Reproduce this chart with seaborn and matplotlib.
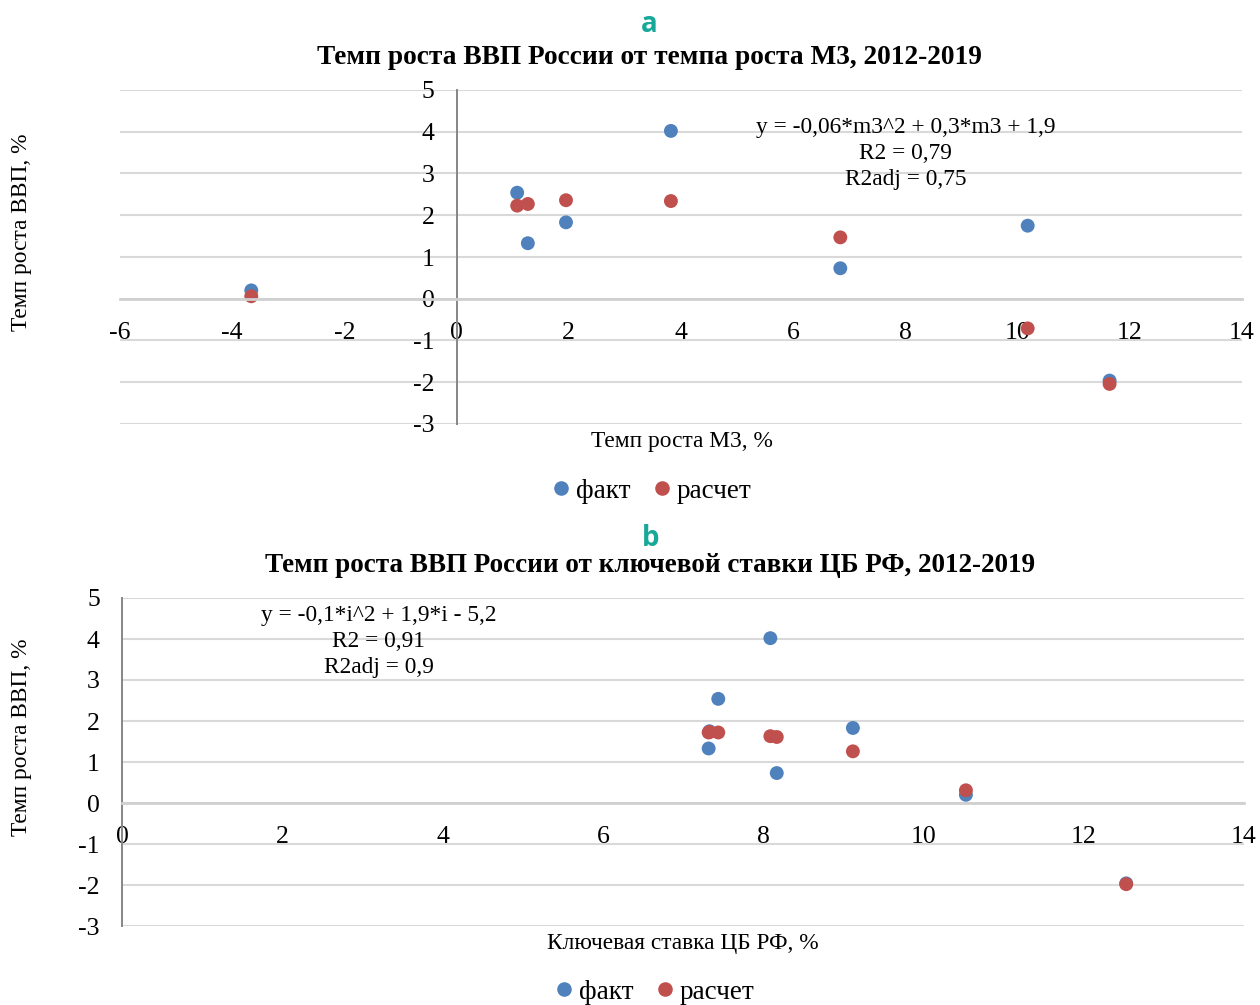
import matplotlib
matplotlib.use("Agg")
import matplotlib.pyplot as plt
import seaborn as sns
import pandas as pd

# ---- data ----
m3_growth = [-3.66, 1.08, 1.27, 1.95, 3.82, 6.84, 10.18, 11.64]
gdp_fact = [0.20, 2.54, 1.33, 1.83, 4.02, 0.73, 1.75, -1.96]
gdp_calc_a = [0.06, 2.23, 2.27, 2.36, 2.34, 1.47, -0.71, -2.04]

key_rate = [10.53, 7.44, 7.32, 9.12, 8.09, 8.17, 7.33, 12.53]
gdp_calc_b = [0.31, 1.72, 1.72, 1.26, 1.63, 1.61, 1.73, -1.98]

series_names = ["факт", "расчет"]
xticks_a = [-6, -4, -2, 0, 2, 4, 6, 8, 10, 12, 14]
xticks_b = [0, 2, 4, 6, 8, 10, 12, 14]
yticks = [-3, -2, -1, 0, 1, 2, 3, 4, 5]

title_a = "Темп роста ВВП России от темпа роста М3, 2012-2019"
title_b = "Темп роста ВВП России от ключевой ставки ЦБ РФ, 2012-2019"
xlabel_a = "Темп роста М3, %"
xlabel_b = "Ключевая ставка ЦБ РФ, %"
ylabel = "Темп роста ВВП, %"
eq_a = "y = -0,06*m3^2 + 0,3*m3 + 1,9\nR2 = 0,79\nR2adj = 0,75"
eq_b = "y = -0,1*i^2 + 1,9*i - 5,2\nR2 = 0,91\nR2adj = 0,9"

df_a = pd.concat([
    pd.DataFrame({"x": m3_growth, "y": gdp_fact, "s": series_names[0]}),
    pd.DataFrame({"x": m3_growth, "y": gdp_calc_a, "s": series_names[1]}),
], ignore_index=True)
df_b = pd.concat([
    pd.DataFrame({"x": key_rate, "y": gdp_fact, "s": series_names[0]}),
    pd.DataFrame({"x": key_rate, "y": gdp_calc_b, "s": series_names[1]}),
], ignore_index=True)

sns.set_theme(style="white")
plt.rcParams["font.family"] = ["Liberation Serif", "DejaVu Serif"]
plt.rcParams["text.color"] = "black"
plt.rcParams["axes.labelcolor"] = "black"
plt.rcParams["xtick.color"] = "black"
plt.rcParams["ytick.color"] = "black"

palette = {series_names[0]: "#4f81bd", series_names[1]: "#c0504d"}

fig = plt.figure(figsize=(12.6, 10.05), dpi=100)
W, H = 1260, 1005

def px_axes(l, t, r, b):
    return fig.add_axes([l / W, 1 - b / H, (r - l) / W, (b - t) / H])

ax_a = px_axes(120, 90, 1242, 424)
ax_b = px_axes(122, 598, 1244, 926)

TICK_FS = 18.5
LABEL_FS = 16.8
EQ_FS = 16.8

def style(ax, df, xlim, xt, eq, eqpos, xl, xl_coords, yl_coords, leg_anchor):
    sns.scatterplot(data=df, x="x", y="y", hue="s", palette=palette, s=100,
                    edgecolor="none", ax=ax, hue_order=series_names)
    for sp in ["top", "right"]:
        ax.spines[sp].set_visible(False)
    ax.spines["left"].set_position(("data", 0))
    ax.spines["left"].set_color("#868686")
    ax.spines["left"].set_linewidth(1.4)
    ax.spines["bottom"].set_position(("data", 0))
    ax.spines["bottom"].set_color("#d0d0d0")
    ax.spines["bottom"].set_linewidth(2.0)
    ax.set_xlim(*xlim)
    ax.set_ylim(-3, 5)
    ax.set_xticks(xt)
    ax.set_yticks(yticks)
    ax.set_xticklabels([str(v) for v in xt])
    ax.set_yticklabels([str(v) for v in yticks])
    ax.tick_params(axis="both", length=0, labelsize=TICK_FS, labelcolor="black")
    ax.tick_params(axis="x", pad=16.5)
    ax.tick_params(axis="y", pad=16)
    ax.yaxis.grid(True, color="#d9d9d9", linewidth=1.5)
    ax.xaxis.grid(False)
    ax.set_axisbelow(True)
    ax.set_xlabel(xl, fontsize=LABEL_FS, va="center")
    ax.xaxis.set_label_coords(*xl_coords)
    ax.set_ylabel(ylabel, fontsize=LABEL_FS, va="center", ha="center")
    ax.yaxis.set_label_coords(*yl_coords)
    ax.text(eqpos[0], eqpos[1], eq, ha="center", va="top", fontsize=EQ_FS,
            multialignment="center", linespacing=1.31)
    sns.move_legend(ax, "center", bbox_to_anchor=leg_anchor, ncol=2,
                    frameon=False, title=None, fontsize=19.5,
                    handlelength=0.8, handletextpad=0.15, columnspacing=0.75,
                    markerscale=1.05)

style(ax_a, df_a, (-6, 14), xticks_a, eq_a, (8.0, 4.36), xlabel_a,
      ((682 - 120) / 1122, (424 - 442) / 334),
      ((22 - 120) / 1122, (424 - 232) / 334),
      ((651 - 120) / 1122, (424 - 491) / 334))
style(ax_b, df_b, (0, 14), xticks_b, eq_b, (3.2, 4.83), xlabel_b,
      ((683 - 122) / 1122, (926 - 943) / 328),
      ((22 - 122) / 1122, (926 - 737) / 328),
      ((654 - 122) / 1122, (926 - 992) / 328))

fig.text(649 / W, 1 - 57 / H, title_a, ha="center", va="center",
         fontsize=19.7, fontweight="bold")
fig.text(650 / W, 1 - 565 / H, title_b, ha="center", va="center",
         fontsize=19.5, fontweight="bold")
fig.text(649 / W, 1 - 25 / H, "a", ha="center", va="center", fontsize=20,
         fontweight="bold", color="#17a89a", family=["Open Sans", "DejaVu Sans"])
fig.text(651 / W, 1 - 538 / H, "b", ha="center", va="center", fontsize=20,
         fontweight="bold", color="#17a89a", family=["Open Sans", "DejaVu Sans"])

fig.savefig("out.png", dpi=100, facecolor="white")
